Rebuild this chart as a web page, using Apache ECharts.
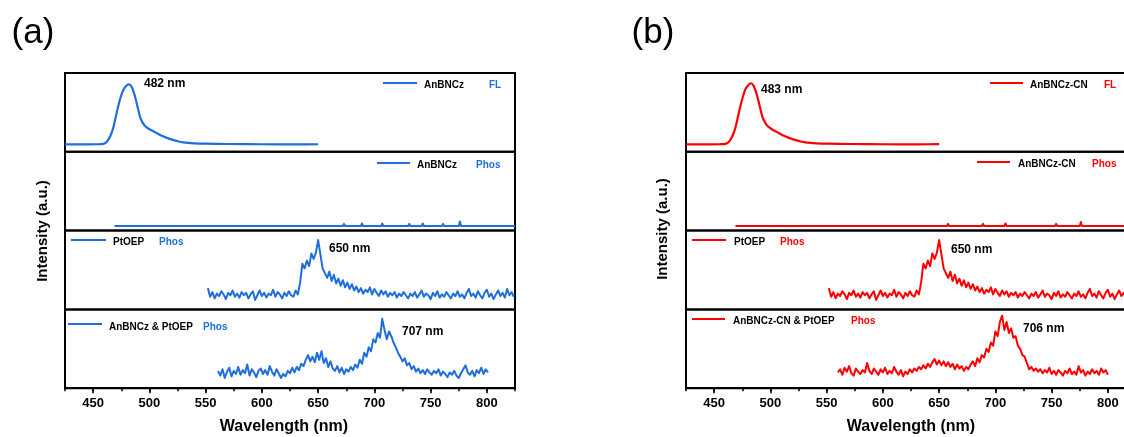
<!DOCTYPE html>
<html>
<head>
<meta charset="utf-8">
<script src="https://cdn.jsdelivr.net/npm/echarts@6/dist/echarts.min.js"></script>
<style>
  html, body { margin: 0; padding: 0; background: #fff; }
  #chart { width: 1124px; height: 437px; }
</style>
</head>
<body>
<div id="chart"></div>
<script>
// ---- Spectra (intensity normalised to the height of each strip) ----
const xTicks = [450, 500, 550, 600, 650, 700, 750, 800];

// AnBNCz fluorescence
const flAx = [425,435,445,455,459,462,465,468,471,474,477,480,482,484,486,488,490,492,494,496,498,501,505,510,515,520,525,530,540,550,570,600,630,650];
const flAy = [0.095,0.095,0.094,0.096,0.10,0.125,0.19,0.31,0.50,0.67,0.79,0.845,0.855,0.83,0.76,0.66,0.54,0.43,0.37,0.33,0.305,0.28,0.25,0.21,0.18,0.155,0.135,0.12,0.108,0.103,0.099,0.096,0.095,0.096];

// AnBNCz-CN fluorescence
const flBx = [425,435,445,455,460,463,466,469,472,475,478,481,483,485,487,489,491,493,495,497,499,502,506,511,516,521,526,531,541,551,571,601,631,650];
const flBy = [0.095,0.095,0.094,0.096,0.10,0.125,0.19,0.31,0.50,0.67,0.80,0.855,0.87,0.84,0.77,0.67,0.55,0.44,0.38,0.335,0.31,0.28,0.25,0.21,0.18,0.155,0.135,0.12,0.108,0.103,0.099,0.096,0.095,0.097];

// AnBNCz phosphorescence (essentially flat)
const phAx = [469,654,655,656,658,659,660,663,664,665,672,673,674,681,682,683,688,689,690,695,696,697,700,701,702,706,707,708,716,717,718,730,731,732,742,743,744,760,761,762,775,776,777,825];
const phAy = [0.058,0.058,0.08,0.058,0.058,0.075,0.058,0.058,0.08,0.058,0.058,0.085,0.058,0.058,0.078,0.058,0.058,0.09,0.058,0.058,0.08,0.058,0.058,0.075,0.058,0.058,0.09,0.058,0.058,0.08,0.058,0.058,0.085,0.058,0.058,0.09,0.058,0.058,0.085,0.058,0.058,0.115,0.058,0.058];

// AnBNCz-CN phosphorescence (essentially flat)
const phBx = [469,657,658,659,660,661,662,688,689,690,708,709,710,727,728,729,753,754,755,775,776,777,825];
const phBy = [0.058,0.058,0.085,0.058,0.08,0.058,0.058,0.058,0.085,0.058,0.058,0.09,0.058,0.058,0.08,0.058,0.058,0.085,0.058,0.058,0.11,0.058,0.058];

// PtOEP phosphorescence, 552-824 nm every 2 nm
const ptStart = 552, ptStep = 2;
const ptY = [0.27,0.16,0.22,0.14,0.20,0.17,0.23,0.19,0.13,0.21,0.18,0.24,0.16,0.20,0.15,0.22,0.18,0.21,0.14,0.19,
  0.23,0.12,0.18,0.24,0.17,0.21,0.15,0.20,0.18,0.25,0.16,0.22,0.19,0.14,0.21,0.17,0.23,0.18,0.16,0.24,
  0.19,0.34,0.58,0.52,0.62,0.55,0.71,0.64,0.72,0.88,0.70,0.52,0.46,0.40,0.48,0.36,0.44,0.33,0.39,0.30,
  0.37,0.28,0.34,0.26,0.32,0.24,0.29,0.22,0.27,0.20,0.25,0.22,0.28,0.19,0.26,0.21,0.17,0.24,0.19,0.23,
  0.16,0.21,0.18,0.22,0.15,0.20,0.17,0.22,0.18,0.14,0.20,0.17,0.22,0.15,0.19,0.24,0.16,0.20,0.18,0.13,
  0.21,0.17,0.23,0.15,0.19,0.16,0.22,0.18,0.14,0.20,0.17,0.23,0.16,0.19,0.14,0.21,0.26,0.17,0.20,0.15,
  0.23,0.18,0.14,0.21,0.25,0.16,0.20,0.13,0.19,0.24,0.17,0.21,0.15,0.26,0.18,0.22,0.16];

// AnBNCz & PtOEP phosphorescence, 561-801 nm every 2 nm
const mixAStart = 561, mixAStep = 2;
const mixAY = [0.22,0.16,0.24,0.13,0.21,0.26,0.15,0.22,0.18,0.27,0.17,0.23,0.19,0.30,0.16,0.24,0.20,0.14,0.22,0.25,
  0.18,0.23,0.17,0.28,0.21,0.16,0.24,0.19,0.13,0.18,0.15,0.22,0.19,0.26,0.20,0.27,0.23,0.31,0.28,0.36,
  0.42,0.34,0.40,0.33,0.45,0.36,0.47,0.32,0.38,0.27,0.34,0.25,0.22,0.28,0.20,0.26,0.18,0.24,0.21,0.27,
  0.23,0.30,0.26,0.36,0.31,0.45,0.40,0.52,0.47,0.62,0.58,0.70,0.64,0.88,0.74,0.62,0.72,0.66,0.58,0.52,
  0.45,0.40,0.34,0.38,0.29,0.32,0.24,0.28,0.21,0.25,0.19,0.23,0.18,0.24,0.20,0.17,0.22,0.19,0.24,0.16,
  0.21,0.18,0.14,0.20,0.17,0.22,0.16,0.13,0.19,0.24,0.29,0.20,0.17,0.22,0.15,0.23,0.19,0.26,0.18,0.24,0.20];

// AnBNCz-CN & PtOEP phosphorescence, 560-800 nm every 2 nm
const mixBStart = 560, mixBStep = 2;
const mixBY = [0.20,0.24,0.17,0.26,0.21,0.28,0.19,0.16,0.25,0.21,0.18,0.23,0.20,0.32,0.22,0.18,0.25,0.21,0.17,0.24,
  0.20,0.26,0.18,0.22,0.19,0.27,0.21,0.17,0.23,0.15,0.21,0.18,0.24,0.20,0.25,0.22,0.27,0.24,0.29,0.25,
  0.31,0.27,0.33,0.37,0.30,0.35,0.29,0.34,0.28,0.33,0.27,0.31,0.24,0.30,0.25,0.28,0.22,0.27,0.24,0.30,
  0.34,0.28,0.38,0.33,0.42,0.39,0.50,0.46,0.58,0.54,0.72,0.66,0.84,0.92,0.74,0.84,0.70,0.76,0.64,0.66,
  0.54,0.50,0.42,0.40,0.32,0.24,0.27,0.22,0.25,0.21,0.24,0.19,0.23,0.20,0.26,0.18,0.22,0.17,0.23,0.20,
  0.16,0.22,0.19,0.25,0.18,0.21,0.17,0.28,0.20,0.23,0.16,0.21,0.18,0.24,0.19,0.22,0.17,0.25,0.20,0.23,0.17];

// ---- helpers ----
const BLUE = '#1e6fdc';
const RED = '#ff0000';
const FONT = '"Liberation Sans", Arial, Helvetica, sans-serif';

function pairs(xs, ys) { return ys.map((y, i) => [xs[i], y]); }
function stepped(start, step, ys) { return ys.map((y, i) => [start + i * step, y]); }

const X_MIN = 425, X_MAX = 825;
const PANEL_W = 450, ROW_H = 78.8, TOP0 = 73;
const panelLeft = [65, 686];

const panels = [
  { color: BLUE, rows: [
      { data: pairs(flAx, flAy), smooth: 0.3, width: 2.2 },
      { data: pairs(phAx, phAy), smooth: false, width: 2 },
      { data: stepped(ptStart, ptStep, ptY), smooth: false, width: 2 },
      { data: stepped(mixAStart, mixAStep, mixAY), smooth: false, width: 2 }
  ]},
  { color: RED, rows: [
      { data: pairs(flBx, flBy), smooth: 0.3, width: 2.2 },
      { data: pairs(phBx, phBy), smooth: false, width: 2 },
      { data: stepped(ptStart, ptStep, ptY), smooth: false, width: 2 },
      { data: stepped(mixBStart, mixBStep, mixBY), smooth: false, width: 2 }
  ]}
];

const grid = [], xAxis = [], yAxis = [], series = [];

panels.forEach((panel, p) => {
  panel.rows.forEach((row, r) => {
    const idx = grid.length;
    const isBottom = r === 3;
    // outerBoundsMode 'none' lets the right-hand strips run past the canvas edge
    grid.push({
      left: panelLeft[p], width: PANEL_W,
      top: TOP0 + r * ROW_H, height: ROW_H,
      outerBoundsMode: 'none', containLabel: false,
      show: true, borderColor: '#000', borderWidth: 2, backgroundColor: 'transparent'
    });
    xAxis.push({
      type: 'value', gridIndex: idx, min: X_MIN, max: X_MAX, interval: 25,
      axisLine: { show: isBottom, onZero: false, lineStyle: { color: '#000', width: 2 } },
      axisTick: { show: isBottom, length: 3, lineStyle: { color: '#000', width: 1.5 } },
      axisLabel: { show: false },
      splitLine: { show: false }
    });
    yAxis.push({
      type: 'value', gridIndex: idx, min: 0, max: 1, show: false, splitLine: { show: false }
    });
    series.push({
      type: 'line', xAxisIndex: idx, yAxisIndex: idx,
      data: row.data, showSymbol: false, symbol: 'none', smooth: row.smooth,
      lineStyle: { color: panel.color, width: row.width, join: 'round' },
      itemStyle: { color: panel.color },
      clip: true, silent: true
    });
  });
});

// major ticks and labels of the wavelength axis
panels.forEach((panel, p) => {
  const idx = grid.length;
  const pxPerNm = PANEL_W / (X_MAX - X_MIN);
  grid.push({
    left: panelLeft[p] + (xTicks[0] - X_MIN) * pxPerNm,
    width: (xTicks[xTicks.length - 1] - xTicks[0]) * pxPerNm,
    top: TOP0 + 3 * ROW_H, height: ROW_H,
    outerBoundsMode: 'none', containLabel: false, show: false
  });
  xAxis.push({
    type: 'value', gridIndex: idx, min: xTicks[0], max: xTicks[xTicks.length - 1], interval: 50,
    axisLine: { show: false, onZero: false },
    axisTick: { show: true, length: 5, lineStyle: { color: '#000', width: 1.6 } },
    axisLabel: { show: true, margin: 9, color: '#000', fontFamily: FONT, fontWeight: 'bold', fontSize: 13 },
    splitLine: { show: false }
  });
  yAxis.push({ type: 'value', gridIndex: idx, min: 0, max: 1, show: false });
});

// ---- text annotations ----
function txt(text, x, y, opts) {
  return {
    type: 'text', x: x, y: y, silent: true, z: 10,
    rotation: (opts && opts.rotation) || 0,
    style: {
      text: text,
      fill: (opts && opts.color) || '#000',
      font: (opts && opts.font) || ('bold 10px ' + FONT),
      textAlign: (opts && opts.align) || 'left',
      textVerticalAlign: 'middle',
      align: (opts && opts.align) || 'left',
      verticalAlign: 'middle'
    }
  };
}
function key(x1, x2, y, color) {
  return {
    type: 'line', silent: true, z: 10,
    shape: { x1: x1, y1: y, x2: x2, y2: y },
    style: { stroke: color, lineWidth: 2 }
  };
}

const labelFont = 'bold 12px ' + FONT;
const graphic = [
  txt('(a)', 33, 33, { font: '35px ' + FONT, align: 'center' }),
  txt('(b)', 653, 33, { font: '35px ' + FONT, align: 'center' }),

  txt('Intensity (a.u.)', 43, 231, { font: 'bold 15px ' + FONT, align: 'center', rotation: Math.PI / 2 }),
  txt('Intensity (a.u.)', 663, 229, { font: 'bold 15px ' + FONT, align: 'center', rotation: Math.PI / 2 }),
  txt('Wavelength (nm)', 284, 427, { font: 'bold 16px ' + FONT, align: 'center' }),
  txt('Wavelength (nm)', 911, 427, { font: 'bold 16px ' + FONT, align: 'center' }),

  // panel (a) keys
  key(383, 417, 83, BLUE), txt('AnBNCz', 424, 85), txt('FL', 489, 85, { color: BLUE }),
  key(377, 410, 163, BLUE), txt('AnBNCz', 417, 165), txt('Phos', 476, 165, { color: BLUE }),
  key(71, 106, 240, BLUE), txt('PtOEP', 113, 242), txt('Phos', 159, 242, { color: BLUE }),
  key(68, 102, 324, BLUE), txt('AnBNCz & PtOEP', 109, 327), txt('Phos', 203, 327, { color: BLUE }),
  txt('482 nm', 144, 84, { font: labelFont }),
  txt('650 nm', 329, 249, { font: labelFont }),
  txt('707 nm', 402, 332, { font: labelFont }),

  // panel (b) keys
  key(990, 1023, 83, RED), txt('AnBNCz-CN', 1030, 85), txt('FL', 1104, 85, { color: RED }),
  key(977, 1010, 162, RED), txt('AnBNCz-CN', 1018, 164), txt('Phos', 1092, 164, { color: RED }),
  key(692, 726, 240, RED), txt('PtOEP', 734, 242), txt('Phos', 780, 242, { color: RED }),
  key(692, 725, 319, RED), txt('AnBNCz-CN & PtOEP', 733, 321), txt('Phos', 851, 321, { color: RED }),
  txt('483 nm', 761, 90, { font: labelFont }),
  txt('650 nm', 951, 250, { font: labelFont }),
  txt('706 nm', 1023, 329, { font: labelFont })
];

const chart = echarts.init(document.getElementById('chart'), null, { renderer: 'canvas' });
chart.setOption({
  animation: false,
  backgroundColor: '#fff',
  grid: grid,
  xAxis: xAxis,
  yAxis: yAxis,
  series: series,
  graphic: graphic
});
</script>
</body>
</html>
